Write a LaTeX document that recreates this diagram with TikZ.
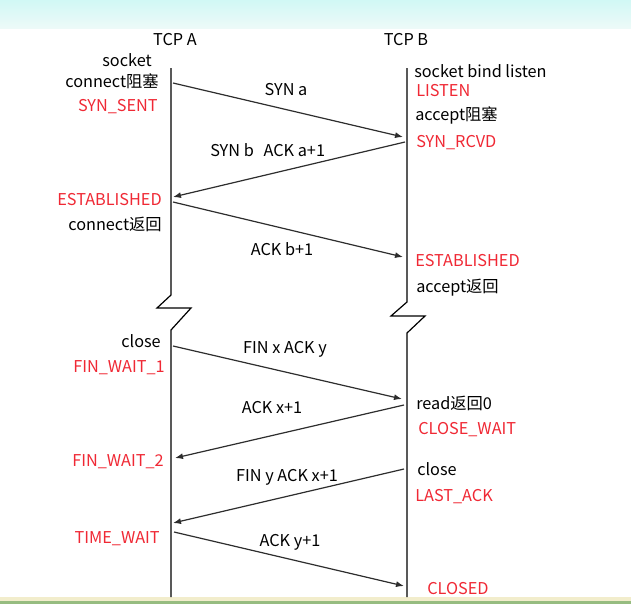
\documentclass[tikz,border=0pt]{standalone}
\usepackage{fontspec}
\setmainfont{Noto Sans CJK SC}
\usetikzlibrary{arrows.meta}
\definecolor{statered}{RGB}{240,40,52}
\definecolor{msggray}{RGB}{45,45,45}
\definecolor{topband}{RGB}{220,245,241}
\definecolor{footband}{RGB}{242,237,204}
\definecolor{footline}{RGB}{150,188,128}
\tikzset{
  state/.style={text=statered, inner sep=0pt},
  call/.style={text=black, inner sep=0pt},
  lifeline/.style={draw=black, line width=0.9pt, line join=miter},
  msg/.style={draw=msggray, line width=0.9pt, -{Latex[length=6pt,width=4.5pt]}},
  msglabel/.style={inner sep=0pt, anchor=base},
}
\begin{document}
\begin{tikzpicture}[x=0.75pt, y=-0.75pt, every node/.style={font=\fontsize{12.2}{14}\selectfont}]
  \useasboundingbox (0,0) rectangle (631,604);
  \fill[white] (0,0) rectangle (631,604);
  \shade[top color=topband!90!cyan!80, bottom color=topband!50] (0,0) rectangle (631,28);
  \fill[footband] (0,597) rectangle (631,601);
  \fill[footline] (0,601) rectangle (631,604);

  \node[call, anchor=base] (tcpA) at (175,45) {TCP A};
  \node[call, anchor=base] (tcpB) at (406,45) {TCP B};

  \coordinate (aTop) at (171,68);
  \coordinate (aCut) at (171,295);
  \coordinate (aGo) at (171,330);
  \coordinate (aEnd) at (171,597);
  \coordinate (bTop) at (407,68);
  \coordinate (bCut) at (407,302);
  \coordinate (bGo) at (407,333);
  \coordinate (bEnd) at (407,597);

  \draw[lifeline] (aTop) -- (aCut) -- ++(-14,13) -- ++(34,0) -- (aGo) -- (aEnd);
  \draw[lifeline] (bTop) -- (bCut) -- ++(-16,14) -- ++(34,0) -- (bGo) -- (bEnd);

  \node[call, anchor=base east] (sockA) at (152,66) {socket};
  \node[call, anchor=base east] (connA) at (159,87) {connect阻塞};
  \node[state, anchor=base east] (synSent) at (158,111) {SYN\_SENT};
  \node[state, anchor=base east] (estA) at (162,205) {ESTABLISHED};
  \node[call, anchor=base east] (connRetA) at (162,230) {connect返回};
  \node[call, anchor=base east] (closeA) at (161,347) {close};
  \node[state, anchor=base east] (finWaitOne) at (165,372) {FIN\_WAIT\_1};
  \node[state, anchor=base east] (finWaitTwo) at (164,466) {FIN\_WAIT\_2};
  \node[state, anchor=base east] (timeWait) at (160,543) {TIME\_WAIT};

  \node[call, anchor=base west] (listenB) at (414,77) {socket bind listen};
  \node[state, anchor=base west] (listenState) at (416,96) {LISTEN};
  \node[call, anchor=base west] (acceptB) at (415,120) {accept阻塞};
  \node[state, anchor=base west] (synRcvd) at (416,147) {SYN\_RCVD};
  \node[state, anchor=base west] (estB) at (415,266) {ESTABLISHED};
  \node[call, anchor=base west] (acceptRetB) at (416,292) {accept返回};
  \node[call, anchor=base west] (readB) at (416,409) {read返回0};
  \node[state, anchor=base west] (closeWait) at (418,434) {CLOSE\_WAIT};
  \node[call, anchor=base west] (closeB) at (417,475) {close};
  \node[state, anchor=base west] (lastAck) at (415,501) {LAST\_ACK};
  \node[state, anchor=base west] (closedB) at (427,594) {CLOSED};

  \coordinate (synOut) at (173,83);   \coordinate (synIn) at (403,137);
  \coordinate (synAckOut) at (405,142); \coordinate (synAckIn) at (173,197);
  \coordinate (ackOut) at (173,202);  \coordinate (ackIn) at (403,257);
  \coordinate (finOut) at (173,346);  \coordinate (finIn) at (402,399);
  \coordinate (finAckOut) at (404,405); \coordinate (finAckIn) at (175,458);
  \coordinate (finBOut) at (404,469); \coordinate (finBIn) at (173,523);
  \coordinate (lastOut) at (174,532); \coordinate (lastIn) at (404,586);

  \draw[msg] (synOut) -- (synIn);
  \draw[msg] (synAckOut) -- (synAckIn);
  \draw[msg] (ackOut) -- (ackIn);
  \draw[msg] (finOut) -- (finIn);
  \draw[msg] (finAckOut) -- (finAckIn);
  \draw[msg] (finBOut) -- (finBIn);
  \draw[msg] (lastOut) -- (lastIn);

  \node[msglabel] (synLbl) at (286,95) {SYN a};
  \node[msglabel, anchor=base west] (synAckLbl) at (210,156) {SYN b\hspace{0.6em}ACK a+1};
  \node[msglabel] (ackLbl) at (282,255) {ACK b+1};
  \node[msglabel] (finLbl) at (285,353) {FIN x ACK y};
  \node[msglabel] (finAckLbl) at (272,413) {ACK x+1};
  \node[msglabel] (finBLbl) at (287,481) {FIN y ACK x+1};
  \node[msglabel] (lastLbl) at (290,546) {ACK y+1};
\end{tikzpicture}
\end{document}
